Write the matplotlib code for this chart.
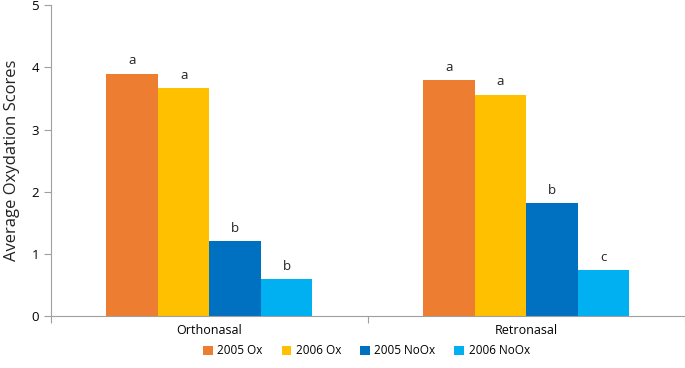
import matplotlib.pyplot as plt
import numpy as np

plt.rcParams['font.family'] = ['Open Sans', 'DejaVu Sans']

categories = ['Orthonasal', 'Retronasal']
series = ['2005 Ox', '2006 Ox', '2005 NoOx', '2006 NoOx']
values = [
    [3.90, 3.80],
    [3.67, 3.56],
    [1.20, 1.82],
    [0.60, 0.74],
]
letters = [
    ['a', 'a'],
    ['a', 'a'],
    ['b', 'b'],
    ['b', 'c'],
]
colors = ['#ED7D31', '#FFC000', '#0070C0', '#00B0F0']

fig = plt.figure(figsize=(6.85, 3.68), dpi=100)
ax = fig.add_axes([0.0745, 0.141, 0.925, 0.845])

x = np.arange(len(categories))
w = 0.1625
for i, (name, vals) in enumerate(zip(series, values)):
    pos = x + (i - 1.5) * w
    ax.bar(pos, vals, width=w, color=colors[i], label=name)
    for p, v, t in zip(pos, vals, letters[i]):
        ax.text(p, v + 0.1, t, ha='center', va='bottom', fontsize=9.5, color='#222222')

ax.set_xlim(-0.5, 1.5)
ax.set_ylim(0, 5)
ax.set_yticks(range(6))
ax.set_ylabel('Average Oxydation Scores', fontsize=12, color='#222222', labelpad=8)

ax.set_xticks([-0.5, 0.5, 1.5])
ax.set_xticklabels([])
ax.set_xticks(x, minor=True)
ax.set_xticklabels(categories, minor=True, fontsize=9)
ax.tick_params(axis='x', which='minor', length=0, pad=6)
ax.tick_params(axis='x', which='major', length=5, color='#A0A0A0')
ax.tick_params(axis='y', length=5, color='#A0A0A0', labelsize=9.5)

for s in ['top', 'right']:
    ax.spines[s].set_visible(False)
for s in ['left', 'bottom']:
    ax.spines[s].set_color('#A0A0A0')

fig.legend(*ax.get_legend_handles_labels(), loc='center', bbox_to_anchor=(0.535, 0.047),
           ncol=4, frameon=False, fontsize=8.5, handlelength=0.8, handleheight=0.8,
           handletextpad=0.4, columnspacing=1.6)

fig.savefig('out.png')
